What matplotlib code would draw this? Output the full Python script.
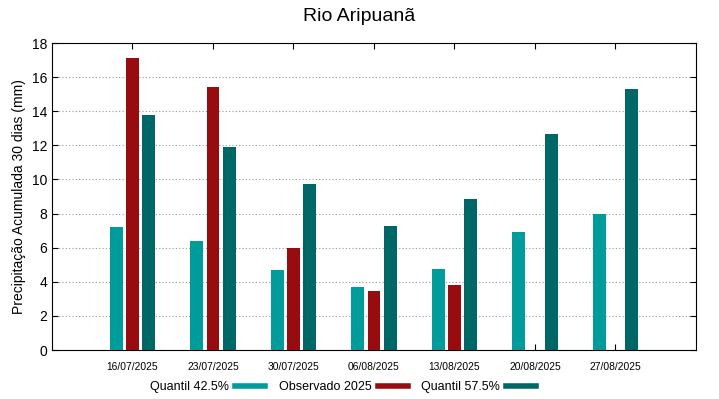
import numpy as np
import matplotlib.pyplot as plt
from matplotlib.lines import Line2D

plt.rcParams['font.family'] = ['Liberation Sans', 'DejaVu Sans']

# data
dates = ['16/07/2025', '23/07/2025', '30/07/2025', '06/08/2025',
         '13/08/2025', '20/08/2025', '27/08/2025']
q425 = [7.23, 6.39, 4.69, 3.71, 4.75, 6.93, 7.95]
obs2025 = [17.13, 15.42, 5.96, 3.44, 3.81, np.nan, np.nan]
q575 = [13.8, 11.92, 9.75, 7.27, 8.85, 12.66, 15.32]

c_low = '#009b9b'
c_obs = '#970d0f'
c_high = '#006767'

fig = plt.figure(figsize=(7.19, 3.99), dpi=100)
ax = fig.add_axes([0.0723, 0.1228, 0.8957, 0.7692])

x = np.arange(len(dates))
w = 0.16
ax.bar(x - 0.2, q425, w, color=c_low, zorder=3)
ax.bar(x, obs2025, w, color=c_obs, zorder=3)
ax.bar(x + 0.2, q575, w, color=c_high, zorder=3)

ax.set_xlim(-1, 7)
ax.set_ylim(0, 18)
ax.set_yticks(range(0, 19, 2))
ax.set_xticks(x)
ax.set_xticklabels(dates, fontsize=7.4)
ax.tick_params(axis='y', labelsize=10, direction='in', right=True, length=4)
ax.tick_params(axis='x', direction='in', top=True, length=4, pad=8.5)
ax.yaxis.grid(True, linestyle=(0, (1, 2)), color='#999999', linewidth=0.8)
for s in ax.spines.values():
    s.set_linewidth(0.8)

ax.set_ylabel('Precipitação Acumulada 30 dias (mm)', fontsize=10)
fig.text(0.5, 0.958, 'Rio Aripuanã', ha='center', va='center', fontsize=14)

handles = [Line2D([], [], color=c, lw=4) for c in (c_low, c_obs, c_high)]
fig.legend(handles, ['Quantil 42.5%', 'Observado 2025', 'Quantil 57.5%'],
           loc='center', bbox_to_anchor=(0.477, 0.029), ncol=3, frameon=False,
           markerfirst=False, handlelength=2.4, columnspacing=1.1,
           handletextpad=0.5, fontsize=9)

fig.savefig('out.png', dpi=100)
